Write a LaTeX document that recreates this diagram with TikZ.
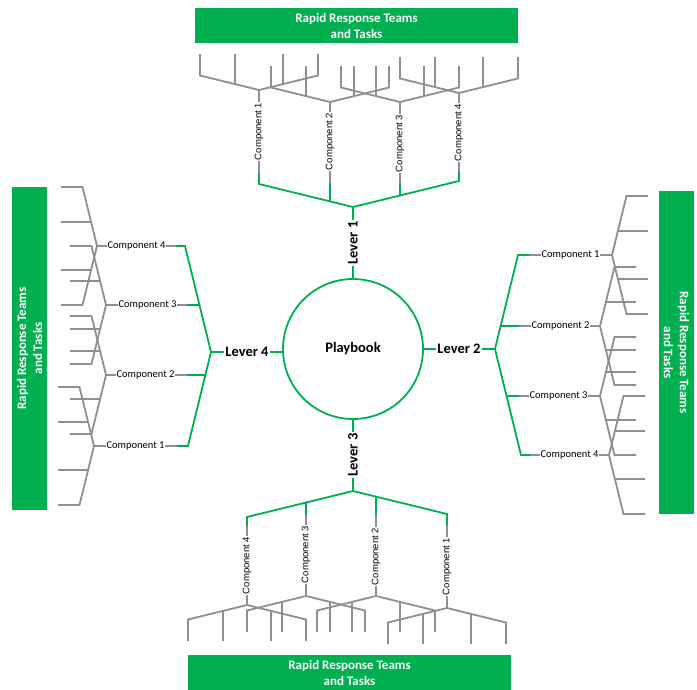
\documentclass[tikz,border=0pt]{standalone}
\usepackage{fontspec}
\setmainfont{Carlito}
\newfontfamily\arialfam{Liberation Sans}
\definecolor{grn}{HTML}{00B050}
\definecolor{gry}{HTML}{8F8F8F}
\tikzset{
  bone/.style={draw=gry, line width=1.8pt},
  bus/.style={draw=grn, line width=1.8pt},
  hub/.style={circle, draw=grn, line width=1.8pt, minimum size=140pt, inner sep=0pt, font=\fontsize{14.5}{17}\selectfont\bfseries},
  leverlbl/.style={fill=white, inner sep=1.5pt, font=\fontsize{14.5}{17}\selectfont\bfseries},
  complblv/.style={fill=white, inner sep=1pt, font=\arialfam\fontsize{9.5}{11}\selectfont},
  complblh/.style={fill=white, inner sep=1pt, font=\fontsize{10.5}{12}\selectfont},
  teambox/.style={fill=grn, text=white, minimum width=323pt, minimum height=35pt, align=center, inner sep=0pt, font=\fontsize{13}{16}\selectfont\bfseries},
}
\newcommand\fishbone[3]{%
  \pgfmathsetmacro\fxa{#2-59}\pgfmathsetmacro\fxb{#2-24}%
  \pgfmathsetmacro\fxc{#2+24}\pgfmathsetmacro\fxd{#2+59}%
  \pgfmathsetmacro\fye{#3-14.5}\pgfmathsetmacro\fyt{#3-5.9}\pgfmathsetmacro\fyp{#3-36}%
  \coordinate (#1-j) at (#2,#3);
  \coordinate (#1-la) at (\fxa,\fye);
  \coordinate (#1-lat) at (\fxa,\fyp);
  \coordinate (#1-lb) at (\fxb,\fyt);
  \coordinate (#1-lbt) at (\fxb,\fyp);
  \coordinate (#1-rb) at (\fxc,\fyt);
  \coordinate (#1-rbt) at (\fxc,\fyp);
  \coordinate (#1-ra) at (\fxd,\fye);
  \coordinate (#1-rat) at (\fxd,\fyp);
  \draw[bone] (#1-lat) -- (#1-la) -- (#1-j) -- (#1-ra) -- (#1-rat);
  \draw[bone] (#1-lb) -- (#1-lbt);
  \draw[bone] (#1-rb) -- (#1-rbt);
}
\newcommand\drawside[7]{%
  \begin{scope}[shift={(353,#3)}, rotate=#2]
    \coordinate (#1-h) at (0,-70);
    \coordinate (#1-v) at (0,-142);
    \coordinate (#1-b1) at (-94,-165);
    \coordinate (#1-b2) at (-23,-147.6);
    \coordinate (#1-b3) at (47,-153.5);
    \coordinate (#1-b4) at (106,-168);
    \coordinate (#1-g1) at (-94,-176);
    \coordinate (#1-g2) at (-23,-166);
    \coordinate (#1-g3) at (47,-166);
    \coordinate (#1-g4) at (106,-177);
    \fishbone{#1-f1}{-94}{-259}
    \fishbone{#1-f2}{-23}{-247}
    \fishbone{#1-f3}{47}{-247}
    \fishbone{#1-f4}{106}{-256}
    \draw[bone] (#1-g1) -- (#1-f1-j);
    \draw[bone] (#1-g2) -- (#1-f2-j);
    \draw[bone] (#1-g3) -- (#1-f3-j);
    \draw[bone] (#1-g4) -- (#1-f4-j);
    \draw[bus] (#1-h) -- (#1-v);
    \draw[bus] (#1-g1) -- (#1-b1) -- (#1-v) -- (#1-b4) -- (#1-g4);
    \draw[bus] (#1-b2) -- (#1-g2);
    \draw[bus] (#1-b3) -- (#1-g3);
    \node[leverlbl, rotate=#4] (#1-lever) at (0,-106) {#6};
    \node[#5, rotate=#4] (#1-c1) at (-94,-217.5) {Component 1};
    \node[#5, rotate=#4] (#1-c2) at (-23,-207.5) {Component 2};
    \node[#5, rotate=#4] (#1-c3) at (47,-205.5) {Component 3};
    \node[#5, rotate=#4] (#1-c4) at (106,-216.5) {Component 4};
    \node[teambox, rotate=#7] (#1-box) at (3.5,-323.5) {Rapid Response Teams\\and Tasks};
  \end{scope}
}
\begin{document}
\begin{tikzpicture}[x=1pt, y=-1pt]
  \useasboundingbox (0,0) rectangle (697,689);
  \drawside{t}{0}{349}{90}{complblv}{Lever 1}{0}
  \drawside{r}{-90}{349}{0}{complblh}{Lever 2}{-90}
  \drawside{b}{180}{349}{90}{complblv}{Lever 3}{0}
  \drawside{l}{90}{352}{0}{complblh}{Lever 4}{90}
  \node[hub] (hub) at (353,349) {Playbook};
\end{tikzpicture}
\end{document}
